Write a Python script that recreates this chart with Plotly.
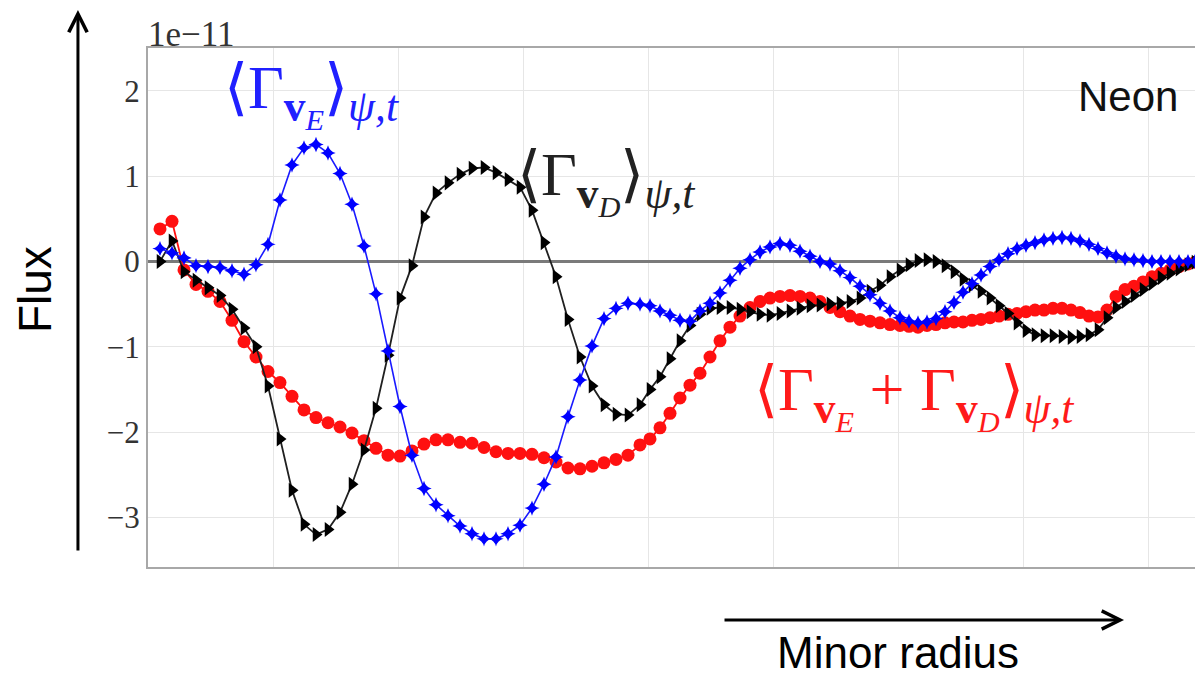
import plotly.graph_objects as go

# normalised minor radius (data units)
r = [0.0096, 0.0192, 0.0288, 0.0384, 0.048, 0.0576, 0.0672, 0.0768, 0.0864, 0.096,
     0.1056, 0.1152, 0.1248, 0.1344, 0.144, 0.1536, 0.1632, 0.1728, 0.1824, 0.192,
     0.2016, 0.2112, 0.2208, 0.2304, 0.24, 0.2496, 0.2592, 0.2688, 0.2784, 0.288,
     0.2976, 0.3072, 0.3168, 0.3264, 0.336, 0.3456, 0.3552, 0.3648, 0.3744, 0.384,
     0.3936,
     0.4016, 0.4096, 0.4176, 0.4256, 0.4336, 0.4416, 0.4496, 0.4576, 0.4656, 0.4736,
     0.4816, 0.4896, 0.4976, 0.5056, 0.5136, 0.5216, 0.5296, 0.5376, 0.5456, 0.5536,
     0.5616, 0.5696, 0.5776, 0.5856, 0.5936, 0.6016,
     0.6088, 0.616, 0.6232, 0.6304, 0.6376, 0.6448, 0.652, 0.6592, 0.6664, 0.6736,
     0.6808, 0.688, 0.6952, 0.7024, 0.7096, 0.7168, 0.724, 0.7312, 0.7384, 0.7456,
     0.7528, 0.76, 0.7672, 0.7744, 0.7816, 0.7888, 0.796, 0.8032, 0.8104, 0.8176,
     0.8248, 0.832, 0.8376]

# fluxes in units of 1e-11
flux_vE = [0.15, 0.10, 0.04, -0.05, -0.06, -0.07, -0.11, -0.15, -0.04, 0.20,
           0.72, 1.13, 1.33, 1.37, 1.27, 1.03, 0.67, 0.18, -0.38, -1.05,
           -1.70, -2.27, -2.66, -2.85, -2.98, -3.10, -3.19, -3.25, -3.25, -3.19,
           -3.09, -2.89, -2.61, -2.29, -1.82, -1.39, -0.99, -0.67, -0.55, -0.49,
           -0.50,
           -0.52, -0.58, -0.63, -0.69, -0.70, -0.58, -0.49, -0.37, -0.22, -0.08,
           0.02, 0.11, 0.17, 0.21, 0.19, 0.12, 0.06, 0.00, -0.03, -0.11,
           -0.19, -0.29, -0.39, -0.49, -0.58, -0.66,
           -0.70, -0.72, -0.71, -0.67, -0.59, -0.48, -0.36, -0.26, -0.16, -0.06,
           0.02, 0.09, 0.15, 0.19, 0.22, 0.25, 0.27, 0.28, 0.27, 0.24,
           0.20, 0.15, 0.10, 0.06, 0.03, 0.02, 0.01, 0.0, 0.0, 0.0,
           0.0, 0.0, 0.0]

flux_vD = [0.00, 0.24, -0.12, -0.22, -0.31, -0.40, -0.56, -0.78, -1.00, -1.46,
           -2.08, -2.68, -3.08, -3.20, -3.14, -2.94, -2.61, -2.21, -1.72, -1.10,
           -0.43, -0.05, 0.52, 0.80, 0.92, 1.02, 1.09, 1.10, 1.04, 0.96,
           0.87, 0.60, 0.22, -0.18, -0.68, -1.12, -1.46, -1.68, -1.79, -1.80,
           -1.68,
           -1.50, -1.35, -1.14, -0.93, -0.75, -0.62, -0.55, -0.54, -0.54, -0.56,
           -0.59, -0.62, -0.63, -0.61, -0.58, -0.55, -0.52, -0.51, -0.50, -0.49,
           -0.47, -0.43, -0.35, -0.28, -0.18, -0.10,
           -0.04, 0.01, 0.02, 0.00, -0.05, -0.12, -0.21, -0.28, -0.35, -0.43,
           -0.52, -0.61, -0.72, -0.81, -0.86, -0.87, -0.87, -0.88, -0.89, -0.88,
           -0.86, -0.80, -0.66, -0.54, -0.47, -0.40, -0.33, -0.26, -0.19, -0.14,
           -0.09, -0.04, -0.01]

flux_sum = [0.38, 0.47, -0.10, -0.27, -0.35, -0.47, -0.69, -0.94, -1.12, -1.29,
            -1.42, -1.58, -1.74, -1.83, -1.89, -1.94, -2.01, -2.10, -2.19, -2.27,
            -2.28, -2.22, -2.14, -2.09, -2.09, -2.12, -2.13, -2.18, -2.23, -2.25,
            -2.25, -2.26, -2.30, -2.35, -2.42, -2.43, -2.40, -2.36, -2.32, -2.27,
            -2.15,
            -2.08, -1.95, -1.78, -1.60, -1.45, -1.31, -1.12, -0.93, -0.77, -0.64,
            -0.54, -0.47, -0.43, -0.41, -0.40, -0.41, -0.43, -0.47, -0.54, -0.59,
            -0.64, -0.68, -0.70, -0.72, -0.74, -0.75,
            -0.76, -0.77, -0.75, -0.74, -0.72, -0.71, -0.71, -0.69, -0.68, -0.66,
            -0.64, -0.62, -0.61, -0.59, -0.57, -0.57, -0.55, -0.55, -0.57, -0.60,
            -0.64, -0.65, -0.57, -0.41, -0.33, -0.29, -0.24, -0.18, -0.14, -0.10,
            -0.06, -0.03, -0.01]

y_ticks = [-3, -2, -1, 0, 1, 2]
y_tick_labels = ["\u22123", "\u22122", "\u22121", "0", "1", "2"]

fig = go.Figure()
fig.add_trace(go.Scatter(x=r, y=flux_sum, mode="lines+markers",
                         line=dict(color="#ff1010", width=1.8),
                         marker=dict(symbol="circle", size=13, color="#ff1010"),
                         showlegend=False))
fig.add_trace(go.Scatter(x=r, y=flux_vD, mode="lines+markers",
                         line=dict(color="#202020", width=1.8),
                         marker=dict(symbol="triangle-right", size=13, color="#000000"),
                         showlegend=False))
fig.add_trace(go.Scatter(x=r, y=flux_vE, mode="lines+markers",
                         line=dict(color="#1a1aff", width=1.6),
                         marker=dict(symbol="star-diamond", size=11, color="#0000ff"),
                         showlegend=False))

serif = "Liberation Serif"
sans = "Liberation Sans"

sub_vE = "<sub><b>v</b><sub><i>E</i></sub></sub>"
sub_vD = "<sub><b>v</b><sub><i>D</i></sub></sub>"
sub_avg = "<sub><i>\u03c8,t</i></sub>"
lab_E = "\u27e8\u0393" + sub_vE + "\u27e9" + sub_avg
lab_D = "\u27e8\u0393" + sub_vD + "\u27e9" + sub_avg
lab_S = "\u27e8\u0393" + sub_vE + " + \u0393" + sub_vD + "\u27e9" + sub_avg

fig.update_layout(
    width=1195, height=680,
    margin=dict(l=148, r=0, t=48, b=113),
    paper_bgcolor="white", plot_bgcolor="white",
    xaxis=dict(range=[0, 0.8376], dtick=0.1, tick0=0, showticklabels=False,
               showgrid=True, gridcolor="#e6e6e6", gridwidth=1,
               showline=True, linecolor="#a8a8a8", linewidth=2, mirror=True,
               zeroline=False, ticks=""),
    yaxis=dict(range=[-3.58, 2.50], tickvals=y_ticks, ticktext=y_tick_labels,
               showgrid=True, gridcolor="#e6e6e6", gridwidth=1,
               showline=True, linecolor="#a8a8a8", linewidth=2,
               zeroline=True, zerolinecolor="#7a7a7a", zerolinewidth=2.5,
               ticks="", tickfont=dict(family=serif, size=31, color="#333333")),
)

ann = []
ann.append(dict(text="1e\u221211", x=-0.002, y=1, xref="paper", yref="paper",
                xanchor="left", yanchor="bottom", showarrow=False, yshift=-8,
                font=dict(family=serif, size=35, color="#333333")))
ann.append(dict(text=lab_E, x=0.0707, y=0.909, xref="paper", yref="paper",
                xanchor="left", yanchor="middle", showarrow=False,
                font=dict(family=serif, size=62, color="#2020ff")))
ann.append(dict(text=lab_D, x=0.3505, y=0.742, xref="paper", yref="paper",
                xanchor="left", yanchor="middle", showarrow=False,
                font=dict(family=serif, size=62, color="#222222")))
ann.append(dict(text=lab_S, x=0.5769, y=0.3276, xref="paper", yref="paper",
                xanchor="left", yanchor="middle", showarrow=False,
                font=dict(family=serif, size=62, color="#ff1a1a")))
ann.append(dict(text="Neon", x=0.9857, y=0.9056, xref="paper", yref="paper",
                xanchor="right", yanchor="middle", showarrow=False,
                font=dict(family=sans, size=42, color="#111111")))
ann.append(dict(text="Flux", x=-0.1079, y=0.5337, xref="paper", yref="paper",
                xanchor="center", yanchor="middle", showarrow=False, textangle=-90,
                font=dict(family=sans, size=46, color="#000000")))
ann.append(dict(text="Minor radius", x=0.7163, y=-0.165, xref="paper", yref="paper",
                xanchor="center", yanchor="middle", showarrow=False,
                font=dict(family=sans, size=44, color="#000000")))
# axis arrows
ann.append(dict(text="", x=-0.0669, y=1.0732, xref="paper", yref="paper",
                ax=0, ay=542, showarrow=True, arrowhead=5, arrowsize=1.2,
                arrowwidth=3, arrowcolor="#000000", standoff=0))
ann.append(dict(text="", x=0.9322, y=-0.1021, xref="paper", yref="paper",
                ax=-401, ay=0, showarrow=True, arrowhead=5, arrowsize=1.2,
                arrowwidth=3, arrowcolor="#000000", standoff=0))
fig.update_layout(annotations=ann)

fig.write_html("out.html")
